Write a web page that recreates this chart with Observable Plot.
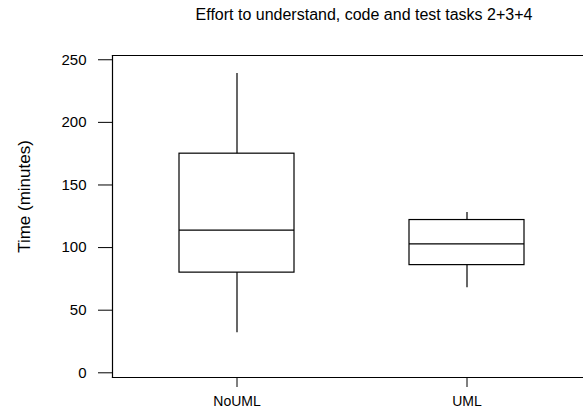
<!DOCTYPE html>
<html>
<head>
<meta charset="utf-8">
<script src="https://cdn.jsdelivr.net/npm/d3@7"></script>
<script src="https://cdn.jsdelivr.net/npm/@observablehq/plot@0.6"></script>
<style>
  html, body { margin: 0; padding: 0; background: white; }
  #wrap { width: 583px; height: 414px; overflow: hidden; font-family: "Liberation Sans", Arial, sans-serif; }
  #title { height: 30px; line-height: 30px; font-size: 16px; padding-left: 145px; width: 438px; text-align: center; color: #000; white-space: nowrap; }
  svg { overflow: hidden; }
</style>
</head>
<body>
<div id="wrap"><div id="title">Effort to understand, code and test tasks 2+3+4</div></div>
<script>
const groups = ["NoUML", "UML"];
const lowWhisker = [32, 68];
const q1 = [80, 86];
const median = [114, 103];
const q3 = [175, 122];
const highWhisker = [239, 128];
const yTicks = [0, 50, 100, 150, 200, 250];
const yLabel = "Time (minutes)";

const data = groups.map((g, i) => ({
  group: g, lo: lowWhisker[i], q1: q1[i], med: median[i], q3: q3[i], hi: highWhisker[i]
}));

const chart = Plot.plot({
  width: 583,
  height: 384,
  marginLeft: 112,
  marginRight: -8,
  marginTop: 25,
  marginBottom: 37,
  style: {fontFamily: "Liberation Sans, Arial, sans-serif", fontSize: "15px", color: "black", background: "white", overflow: "hidden"},
  x: {type: "band", domain: groups, paddingInner: 0.5, paddingOuter: 0.287, align: 0.5, label: null},
  y: {domain: [-3.75, 253.4], label: null},
  marks: [
    Plot.frame({anchor: "top", stroke: "black", strokeWidth: 1.2}),
    Plot.frame({anchor: "bottom", stroke: "black", strokeWidth: 1.2}),
    Plot.frame({anchor: "left", stroke: "black", strokeWidth: 1.2}),
    Plot.axisY({ticks: yTicks, tickSize: 14, tickPadding: 12, label: null, fontSize: 15}),
    Plot.axisX({tickSize: 10, tickPadding: 9, label: null, fontSize: 14}),
    Plot.ruleX(data, {x: "group", y1: "lo", y2: "hi", stroke: "black", strokeWidth: 1.2}),
    Plot.barY(data, {x: "group", y1: "q1", y2: "q3", fill: "white", stroke: "black", strokeWidth: 1.2}),
    Plot.tickY(data, {x: "group", y: "med", stroke: "black", strokeWidth: 1.2}),
    Plot.text([yLabel], {text: d => d, frameAnchor: "left", rotate: -90, textAnchor: "middle", dx: -88, dy: -20, fontSize: 17})
  ]
});
document.getElementById("wrap").appendChild(chart);
</script>
</body>
</html>
